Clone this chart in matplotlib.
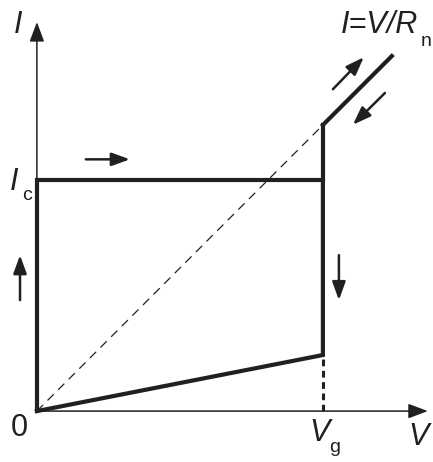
import matplotlib.pyplot as plt

plt.rcParams['font.family'] = ['Liberation Sans', 'DejaVu Sans']

# hysteretic I-V loop, units scaled so that Vg = 1 and Rn = 1
v_gap = 1.0
i_c = 0.808
i_sub = 0.196
v_top = 1.241

ink = '#231f20'

fig = plt.figure(figsize=(4.33, 4.62), dpi=100)
ax = fig.add_axes([0, 0, 1, 1])
ax.set_xlim(-0.129, 1.385)
ax.set_ylim(-0.178, 1.437)
ax.axis('off')

# axes with arrow heads
axarr = dict(arrowstyle='-|>,head_length=1.2,head_width=0.45', color=ink, lw=1.1, shrinkA=0, shrinkB=0)
ax.annotate('', xy=(1.367, 0), xytext=(0, 0), arrowprops=axarr)
ax.annotate('', xy=(0, 1.36), xytext=(0, 0), arrowprops=axarr)

# normal-state line through the origin
ax.plot([0, v_gap], [0, v_gap], color=ink, lw=0.9, ls=(0, (7, 5)))
ax.plot([v_gap, v_gap], [0, i_sub], color=ink, lw=2.2, ls=(0, (2.2, 1.5)))

# the loop itself
ax.plot([0, 0, v_gap, v_gap], [0, i_c, i_c, v_gap], color=ink, lw=3, solid_joinstyle='miter')
ax.plot([0, v_gap, v_gap], [0, i_sub, i_c], color=ink, lw=3, solid_joinstyle='miter')
ax.plot([v_gap, v_top], [v_gap, v_top], color=ink, lw=3)

# sweep direction arrows
arr = dict(arrowstyle='-|>,head_length=1.1,head_width=0.4', color=ink, lw=1.8, shrinkA=0, shrinkB=0)
ax.annotate('', xy=(0.325, 0.880), xytext=(0.171, 0.880), arrowprops=arr)
ax.annotate('', xy=(-0.059, 0.545), xytext=(-0.059, 0.388), arrowprops=arr)
ax.annotate('', xy=(1.056, 0.388), xytext=(1.056, 0.545), arrowprops=arr)
ax.annotate('', xy=(1.143, 1.237), xytext=(1.035, 1.125), arrowprops=arr)
ax.annotate('', xy=(1.105, 1.001), xytext=(1.217, 1.112), arrowprops=arr)

# labels
big = dict(fontsize=22, color=ink, ha='center', va='center')
sub = dict(fontsize=14, color=ink, ha='center', va='center')
ax.text(-0.066, 1.35, 'I', style='italic', **big)
ax.text(-0.08, 0.80, 'I', style='italic', **big)
ax.text(-0.035, 0.752, 'c', **sub)
ax.text(-0.062, -0.058, '0', **big)
ax.text(0.99, -0.075, 'V', style='italic', **big)
ax.text(1.04, -0.128, 'g', **sub)
ax.text(1.335, -0.092, 'V', style='italic', **big)
ax.text(1.334, 1.35, 'I=V/R', style='italic', fontsize=22, color=ink, ha='right', va='center')
ax.text(1.36, 1.292, 'n', **sub)

fig.savefig('out.png', dpi=100)
